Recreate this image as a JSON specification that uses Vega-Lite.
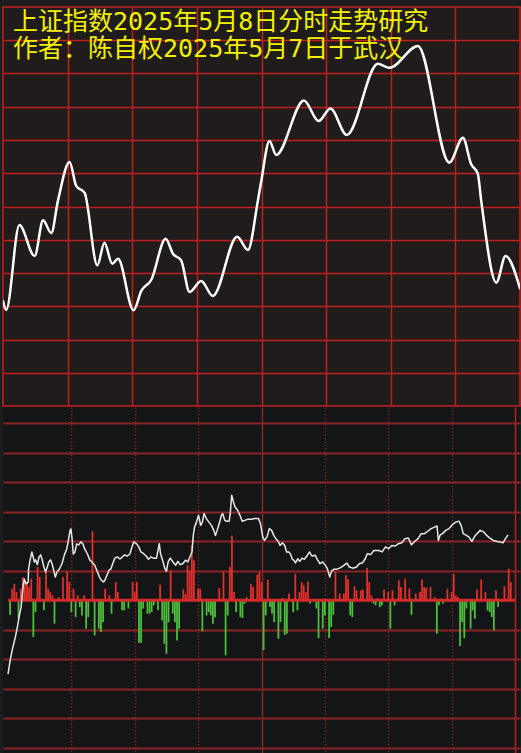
{
  "$schema": "https://vega.github.io/schema/vega-lite/v6.json",
  "background": "#1c1c1f",
  "padding": {"left": 2, "top": 6, "right": 2, "bottom": 0},
  "spacing": 0,
  "title": {
    "text": "上证指数2025年5月8日分时走势研究",
    "subtitle": "作者：陈自权2025年5月7日于武汉",
    "anchor": "start",
    "frame": "group",
    "offset": -56,
    "dx": 10,
    "color": "#f2f200",
    "subtitleColor": "#f2f200",
    "font": "DejaVu Sans Mono, Noto Sans CJK SC",
    "subtitleFont": "DejaVu Sans Mono, Noto Sans CJK SC",
    "fontSize": 25,
    "subtitleFontSize": 25,
    "fontWeight": "normal",
    "subtitleFontWeight": "normal",
    "subtitlePadding": 2
  },
  "config": {
    "axis": {"labels": false, "ticks": false, "domain": false, "grid": true, "titlePadding": 0, "labelPadding": 0, "tickSize": 0}
  },
  "datasets": {
    "top": [
      {"m": 0, "v": 3.16}, {"m": 1.5, "v": 2.89}, {"m": 7.6, "v": 5.44}, {"m": 14.7, "v": 4.51},
      {"m": 18.6, "v": 5.59}, {"m": 22.4, "v": 5.2}, {"m": 25.5, "v": 6.17}, {"m": 30.9, "v": 7.34},
      {"m": 34.0, "v": 6.62}, {"m": 37.9, "v": 6.41}, {"m": 43.8, "v": 4.23}, {"m": 47.1, "v": 4.91},
      {"m": 50.7, "v": 4.28}, {"m": 53.4, "v": 4.43}, {"m": 60.6, "v": 2.88}, {"m": 64.2, "v": 3.46},
      {"m": 68.8, "v": 3.79}, {"m": 75.5, "v": 5.03}, {"m": 78.9, "v": 4.58}, {"m": 82.7, "v": 4.38},
      {"m": 86.6, "v": 3.43}, {"m": 92.0, "v": 3.76}, {"m": 97.4, "v": 3.31}, {"m": 108.7, "v": 5.09},
      {"m": 113.7, "v": 4.69}, {"m": 118.3, "v": 6.17}, {"m": 119.9, "v": 6.77}, {"m": 123.7, "v": 7.97},
      {"m": 126.8, "v": 7.55}, {"m": 139.7, "v": 9.19}, {"m": 146.5, "v": 8.57}, {"m": 152.0, "v": 8.95},
      {"m": 159.6, "v": 8.15}, {"m": 174.0, "v": 10.29}, {"m": 179.4, "v": 10.17}, {"m": 192.6, "v": 10.83},
      {"m": 207.2, "v": 7.32}, {"m": 213.5, "v": 8.07}, {"m": 217.3, "v": 7.28}, {"m": 220.4, "v": 6.99},
      {"m": 222.0, "v": 6.17}, {"m": 229.0, "v": 3.71}, {"m": 233.3, "v": 4.51}, {"m": 240, "v": 3.54}
    ],
    "vol": [
      {"m": 1, "v": -0.49}, {"m": 2, "v": 0.39}, {"m": 3, "v": 0.56}, {"m": 4, "v": 0.28}, {"m": 5, "v": -0.62},
      {"m": 6, "v": 0.39}, {"m": 7, "v": 0.79}, {"m": 8, "v": 0.62}, {"m": 9, "v": 0.62}, {"m": 10, "v": 0.45},
      {"m": 11, "v": 0.73}, {"m": 12, "v": -1.24}, {"m": 13, "v": -0.4}, {"m": 14, "v": 1.13}, {"m": 15, "v": 0.79},
      {"m": 17, "v": -0.34}, {"m": 18, "v": 0.96}, {"m": 19, "v": 0.39}, {"m": 20, "v": 0.28}, {"m": 21, "v": 0.17},
      {"m": 22, "v": -0.79}, {"m": 24, "v": 0.11}, {"m": 26, "v": 0.79}, {"m": 28, "v": 0.96}, {"m": 29, "v": 0.62},
      {"m": 30, "v": -0.4}, {"m": 31, "v": 0.39}, {"m": 32, "v": -0.57}, {"m": 33, "v": 0.17}, {"m": 34, "v": -0.23},
      {"m": 35, "v": -0.51}, {"m": 36, "v": 0.17}, {"m": 37, "v": -0.96}, {"m": 38, "v": -0.57}, {"m": 40, "v": 2.34},
      {"m": 41, "v": -1.19}, {"m": 43, "v": -0.96}, {"m": 44, "v": -1.07}, {"m": 45, "v": -0.74}, {"m": 46, "v": 0.39},
      {"m": 48, "v": 0.17}, {"m": 49, "v": -0.45}, {"m": 51, "v": 0.62}, {"m": 52, "v": 0.28}, {"m": 54, "v": -0.34},
      {"m": 55, "v": -0.34}, {"m": 57, "v": -0.28}, {"m": 59, "v": 0.62}, {"m": 60, "v": 0.28}, {"m": 61, "v": 0.62},
      {"m": 62, "v": -1.44}, {"m": 63, "v": -1.44}, {"m": 64, "v": -0.28}, {"m": 66, "v": -0.45}, {"m": 67, "v": -0.45},
      {"m": 68, "v": -0.4}, {"m": 69, "v": -0.17}, {"m": 71, "v": -0.34}, {"m": 72, "v": 0.53}, {"m": 73, "v": -0.68},
      {"m": 74, "v": -1.47}, {"m": 75, "v": -1.81}, {"m": 76, "v": -0.74}, {"m": 77, "v": 1.02}, {"m": 78, "v": -0.45},
      {"m": 79, "v": -0.74}, {"m": 80, "v": -1.36}, {"m": 81, "v": -0.96}, {"m": 83, "v": 0.37}, {"m": 84, "v": 0.22},
      {"m": 85, "v": 1.19}, {"m": 86, "v": 1.02}, {"m": 87, "v": 1.86}, {"m": 88, "v": 1.36}, {"m": 90, "v": 0.39},
      {"m": 91, "v": 0.39}, {"m": 92, "v": -1.05}, {"m": 94, "v": -0.51}, {"m": 95, "v": -0.4}, {"m": 96, "v": -0.51},
      {"m": 97, "v": -0.79}, {"m": 98, "v": -0.57}, {"m": 100, "v": 0.42}, {"m": 102, "v": 0.98}, {"m": 103, "v": -1.86},
      {"m": 104, "v": -0.51}, {"m": 105, "v": 1.13}, {"m": 106, "v": 2.2}, {"m": 107, "v": 0.28}, {"m": 108, "v": -0.4},
      {"m": 110, "v": -0.57}, {"m": 111, "v": -0.6}, {"m": 112, "v": -0.11}, {"m": 113, "v": 0.11}, {"m": 115, "v": 0.56},
      {"m": 116, "v": 0.45}, {"m": 118, "v": 0.87}, {"m": 119, "v": 0.96}, {"m": 120, "v": 0.62}, {"m": 121, "v": -1.69},
      {"m": 122, "v": -0.51}, {"m": 123, "v": 0.7}, {"m": 124, "v": -0.23}, {"m": 125, "v": -0.45}, {"m": 126, "v": -0.74},
      {"m": 128, "v": -1.3}, {"m": 129, "v": -0.74}, {"m": 130, "v": 0.08}, {"m": 131, "v": -1.17}, {"m": 132, "v": -1.13},
      {"m": 133, "v": 0.23}, {"m": 135, "v": -0.4}, {"m": 136, "v": 0.9}, {"m": 137, "v": -0.34}, {"m": 138, "v": 0.28},
      {"m": 139, "v": 0.62}, {"m": 140, "v": 0.51}, {"m": 141, "v": 0.28}, {"m": 142, "v": 0.64}, {"m": 143, "v": -0.11},
      {"m": 144, "v": 0.05}, {"m": 146, "v": -0.28}, {"m": 147, "v": -1.28}, {"m": 149, "v": -0.96}, {"m": 150, "v": -0.51},
      {"m": 152, "v": -1.28}, {"m": 153, "v": -0.9}, {"m": 154, "v": -0.49}, {"m": 155, "v": 0.98}, {"m": 157, "v": 0.23},
      {"m": 159, "v": 0.23}, {"m": 160, "v": 0.85}, {"m": 161, "v": 0.72}, {"m": 162, "v": -0.51}, {"m": 163, "v": -0.57},
      {"m": 164, "v": 0.48}, {"m": 165, "v": 0.34}, {"m": 167, "v": 0.34}, {"m": 168, "v": 0.37}, {"m": 170, "v": 1.1},
      {"m": 171, "v": 0.62}, {"m": 172, "v": 0.17}, {"m": 173, "v": -0.11}, {"m": 174, "v": -0.17}, {"m": 175, "v": 0.08},
      {"m": 176, "v": -0.23}, {"m": 177, "v": -0.17}, {"m": 178, "v": 0.37}, {"m": 180, "v": 0.28}, {"m": 181, "v": -0.96},
      {"m": 182, "v": 0.34}, {"m": 183, "v": -0.17}, {"m": 185, "v": 0.68}, {"m": 186, "v": 0.45}, {"m": 188, "v": 0.73},
      {"m": 190, "v": 0.39}, {"m": 191, "v": -0.49}, {"m": 193, "v": 0.23}, {"m": 195, "v": 0.28}, {"m": 196, "v": 0.71},
      {"m": 197, "v": 0.45}, {"m": 198, "v": 0.42}, {"m": 200, "v": 0.45}, {"m": 202, "v": 0.11}, {"m": 203, "v": -1.13},
      {"m": 204, "v": -0.17}, {"m": 205, "v": 0.05}, {"m": 206, "v": -0.11}, {"m": 208, "v": 0.39}, {"m": 210, "v": 0.28},
      {"m": 211, "v": 0.9}, {"m": 212, "v": 0.17}, {"m": 213, "v": 0.11}, {"m": 214, "v": -1.55}, {"m": 215, "v": -0.74},
      {"m": 216, "v": -1.28}, {"m": 217, "v": -0.28}, {"m": 219, "v": -0.96}, {"m": 220, "v": -0.34}, {"m": 221, "v": -0.62},
      {"m": 222, "v": 0.37}, {"m": 224, "v": 0.71}, {"m": 226, "v": 0.28}, {"m": 227, "v": -0.34}, {"m": 228, "v": -0.4},
      {"m": 229, "v": -0.57}, {"m": 230, "v": -1.02}, {"m": 231, "v": 0.34}, {"m": 232, "v": -0.23}, {"m": 234, "v": -0.06},
      {"m": 235, "v": 0.48}, {"m": 237, "v": 1.07}, {"m": 238, "v": 0.62}
    ],
    "wl": [
      {"m": 0, "v": -2.5}, {"m": 1.07, "v": -2.02}, {"m": 2.0, "v": -1.68}, {"m": 3.5, "v": -1.24}, {"m": 4.6, "v": -0.84},
      {"m": 5.4, "v": -0.5}, {"m": 6.2, "v": -0.23}, {"m": 6.6, "v": 0.11}, {"m": 7.2, "v": 0.52}, {"m": 7.7, "v": 0.72},
      {"m": 8.5, "v": 0.56}, {"m": 9.6, "v": 0.62}, {"m": 9.7, "v": 1.03}, {"m": 10.3, "v": 1.3}, {"m": 11.3, "v": 1.64},
      {"m": 11.9, "v": 1.47}, {"m": 12.5, "v": 1.3}, {"m": 13.1, "v": 1.37}, {"m": 13.9, "v": 1.21}, {"m": 14.7, "v": 1.47},
      {"m": 15.5, "v": 1.54}, {"m": 16.2, "v": 1.37}, {"m": 17.0, "v": 1.13}, {"m": 17.8, "v": 0.96}, {"m": 18.6, "v": 1.13},
      {"m": 19.3, "v": 1.3}, {"m": 20.1, "v": 1.37}, {"m": 20.9, "v": 1.23}, {"m": 21.6, "v": 1.03}, {"m": 22.4, "v": 0.79},
      {"m": 23.2, "v": 0.96}, {"m": 24.3, "v": 1.06}, {"m": 25.5, "v": 1.23}, {"m": 26.7, "v": 1.54}, {"m": 27.8, "v": 1.74},
      {"m": 28.6, "v": 2.04}, {"m": 29.4, "v": 2.38}, {"m": 29.8, "v": 2.42}, {"m": 30.4, "v": 2.04}, {"m": 30.9, "v": 1.57},
      {"m": 31.7, "v": 1.64}, {"m": 32.5, "v": 1.91}, {"m": 33.5, "v": 1.88}, {"m": 34.5, "v": 1.98}, {"m": 35.5, "v": 1.91},
      {"m": 36.3, "v": 1.74}, {"m": 37.6, "v": 1.57}, {"m": 38.7, "v": 1.37}, {"m": 39.7, "v": 1.3}, {"m": 41.0, "v": 1.2},
      {"m": 42.2, "v": 0.99}, {"m": 43.3, "v": 0.79}, {"m": 44.1, "v": 0.69}, {"m": 45.2, "v": 0.62}, {"m": 45.9, "v": 0.69},
      {"m": 46.9, "v": 0.86}, {"m": 47.9, "v": 1.03}, {"m": 48.7, "v": 1.06}, {"m": 49.5, "v": 1.23}, {"m": 50.6, "v": 1.43},
      {"m": 51.8, "v": 1.47}, {"m": 53.0, "v": 1.4}, {"m": 54.1, "v": 1.47}, {"m": 55.2, "v": 1.54}, {"m": 56.4, "v": 1.5},
      {"m": 57.7, "v": 1.57}, {"m": 58.7, "v": 1.81}, {"m": 59.5, "v": 1.98}, {"m": 60.8, "v": 1.92}, {"m": 61.9, "v": 1.81},
      {"m": 62.9, "v": 1.64}, {"m": 64.2, "v": 1.58}, {"m": 65.4, "v": 1.5}, {"m": 66.5, "v": 1.39}, {"m": 67.6, "v": 1.47},
      {"m": 68.8, "v": 1.43}, {"m": 70.3, "v": 1.43}, {"m": 71.6, "v": 1.92}, {"m": 72.2, "v": 1.58}, {"m": 73.1, "v": 1.37},
      {"m": 74.2, "v": 1.09}, {"m": 75.0, "v": 0.98}, {"m": 75.8, "v": 1.3}, {"m": 76.8, "v": 1.43}, {"m": 78.1, "v": 1.3},
      {"m": 79.4, "v": 1.19}, {"m": 80.4, "v": 1.32}, {"m": 81.5, "v": 1.21}, {"m": 82.7, "v": 1.24}, {"m": 84.0, "v": 1.36},
      {"m": 85.1, "v": 1.3}, {"m": 86.1, "v": 1.47}, {"m": 87.1, "v": 1.64}, {"m": 87.7, "v": 2.2}, {"m": 88.3, "v": 2.48},
      {"m": 89.2, "v": 2.65}, {"m": 90.2, "v": 2.88}, {"m": 91.2, "v": 2.54}, {"m": 92.0, "v": 2.65}, {"m": 92.8, "v": 2.94},
      {"m": 93.9, "v": 2.77}, {"m": 95.1, "v": 2.65}, {"m": 96.3, "v": 2.54}, {"m": 97.4, "v": 2.37}, {"m": 98.2, "v": 2.2},
      {"m": 99.0, "v": 2.37}, {"m": 100.0, "v": 2.6}, {"m": 101.0, "v": 2.88}, {"m": 101.6, "v": 2.94}, {"m": 102.6, "v": 2.71},
      {"m": 103.6, "v": 2.68}, {"m": 104.7, "v": 2.68}, {"m": 105.2, "v": 2.94}, {"m": 105.9, "v": 3.56}, {"m": 106.7, "v": 3.33},
      {"m": 107.5, "v": 3.16}, {"m": 108.7, "v": 3.05}, {"m": 109.8, "v": 2.88}, {"m": 110.9, "v": 2.68}, {"m": 112.1, "v": 2.71},
      {"m": 113.7, "v": 2.75}, {"m": 115.2, "v": 2.75}, {"m": 116.8, "v": 2.77}, {"m": 118.6, "v": 2.77}, {"m": 119.5, "v": 2.6},
      {"m": 120.6, "v": 2.15}, {"m": 121.4, "v": 2.03}, {"m": 122.6, "v": 2.15}, {"m": 123.7, "v": 2.43}, {"m": 124.8, "v": 2.37},
      {"m": 125.8, "v": 2.2}, {"m": 126.8, "v": 2.09}, {"m": 127.9, "v": 2.0}, {"m": 128.8, "v": 1.86}, {"m": 129.9, "v": 1.95},
      {"m": 131.0, "v": 1.86}, {"m": 131.9, "v": 1.64}, {"m": 133.0, "v": 1.64}, {"m": 133.8, "v": 1.55}, {"m": 134.6, "v": 1.39},
      {"m": 135.3, "v": 1.36}, {"m": 136.1, "v": 1.27}, {"m": 137.2, "v": 1.41}, {"m": 138.1, "v": 1.32}, {"m": 139.2, "v": 1.43},
      {"m": 140.3, "v": 1.39}, {"m": 141.5, "v": 1.5}, {"m": 142.7, "v": 1.64}, {"m": 143.9, "v": 1.5}, {"m": 145.4, "v": 1.53},
      {"m": 146.4, "v": 1.39}, {"m": 147.7, "v": 1.24}, {"m": 149.0, "v": 1.3}, {"m": 150.0, "v": 1.21}, {"m": 151.1, "v": 1.09},
      {"m": 152.3, "v": 0.79}, {"m": 153.1, "v": 0.98}, {"m": 154.2, "v": 1.05}, {"m": 155.5, "v": 1.05}, {"m": 157.0, "v": 1.09},
      {"m": 158.5, "v": 1.16}, {"m": 160.4, "v": 1.26}, {"m": 161.6, "v": 1.13}, {"m": 163.2, "v": 1.09}, {"m": 165.0, "v": 1.13},
      {"m": 166.3, "v": 1.24}, {"m": 167.8, "v": 1.27}, {"m": 169.1, "v": 1.41}, {"m": 170.1, "v": 1.58}, {"m": 171.7, "v": 1.55},
      {"m": 173.2, "v": 1.69}, {"m": 175.5, "v": 1.69}, {"m": 177.1, "v": 1.64}, {"m": 178.7, "v": 1.81}, {"m": 180.2, "v": 1.75},
      {"m": 181.7, "v": 1.86}, {"m": 183.3, "v": 1.84}, {"m": 184.8, "v": 1.92}, {"m": 186.4, "v": 1.95}, {"m": 187.9, "v": 2.09},
      {"m": 189.5, "v": 2.11}, {"m": 191.0, "v": 1.88}, {"m": 192.6, "v": 2.0}, {"m": 194.1, "v": 2.09}, {"m": 195.6, "v": 2.26},
      {"m": 197.2, "v": 2.26}, {"m": 198.7, "v": 2.34}, {"m": 200.3, "v": 2.43}, {"m": 201.9, "v": 2.48}, {"m": 203.1, "v": 2.52},
      {"m": 203.7, "v": 2.03}, {"m": 204.6, "v": 2.22}, {"m": 205.7, "v": 2.26}, {"m": 207.2, "v": 2.37}, {"m": 208.8, "v": 2.43},
      {"m": 210.3, "v": 2.56}, {"m": 211.9, "v": 2.65}, {"m": 213.5, "v": 2.68}, {"m": 214.5, "v": 2.54}, {"m": 215.5, "v": 2.26},
      {"m": 217.0, "v": 2.2}, {"m": 218.1, "v": 2.15}, {"m": 219.6, "v": 2.0}, {"m": 221.2, "v": 2.2}, {"m": 223.5, "v": 2.37},
      {"m": 225.1, "v": 2.32}, {"m": 226.6, "v": 2.2}, {"m": 228.1, "v": 2.11}, {"m": 229.7, "v": 2.03}, {"m": 231.2, "v": 2.0},
      {"m": 232.7, "v": 1.98}, {"m": 234.3, "v": 1.95}, {"m": 235.5, "v": 2.09}, {"m": 236.7, "v": 2.22}
    ]
  },
  "vconcat": [
    {
      "width": 517,
      "height": 399,
      "view": {"fill": "#201c1b", "stroke": "#c21f1f", "strokeWidth": 1.5},
      "data": {"name": "top"},
      "mark": {"type": "line", "interpolate": "monotone", "color": "#ffffff", "strokeWidth": 2.5, "strokeJoin": "round", "strokeCap": "round", "clip": true},
      "encoding": {
        "x": {"field": "m", "type": "quantitative", "scale": {"domain": [0, 240], "nice": false},
              "axis": {"title": null, "values": [30, 60, 90, 120, 150, 180, 210], "gridColor": "#c21f1f", "gridWidth": 1.5, "gridOpacity": 1}},
        "y": {"field": "v", "type": "quantitative", "scale": {"domain": [0, 12], "nice": false, "zero": false},
              "axis": {"title": null, "values": [1, 2, 3, 4, 5, 6, 7, 8, 9, 10, 11], "gridColor": "#c21f1f", "gridWidth": 1.5, "gridOpacity": 1}}
      }
    },
    {
      "width": 517,
      "height": 348,
      "view": {"fill": "#141517", "stroke": null},
      "encoding": {
        "x": {"field": "m", "type": "quantitative", "scale": {"domain": [0, 240], "nice": false},
              "axis": {"title": null, "values": [30, 60, 90, 120, 150, 180, 210, 240],
                       "gridColor": {"condition": {"test": "datum.value === 240", "value": "#b82222"}, "value": "#8e2626"},
                       "gridDash": {"condition": {"test": "datum.value === 120 || datum.value === 240", "value": [1, 0]}, "value": [1.2, 2.2]},
                       "gridWidth": 1.5, "gridOpacity": 1}},
        "y": {"field": "v", "type": "quantitative", "scale": {"domain": [-5.24, 6.55], "nice": false, "zero": false},
              "axis": {"title": null, "values": [-5, -4, -3, -2, -1, 1, 2, 3, 4, 5, 6],
                       "gridColor": "#8c2424", "gridWidth": 2, "gridOpacity": 1}}
      },
      "layer": [
        {
          "data": {"name": "vol"},
          "mark": {"type": "bar", "width": 1.8, "clip": true},
          "encoding": {
            "color": {"condition": {"test": "datum.v > 0", "value": "#e2302c"}, "value": "#4cbf3c"}
          }
        },
        {
          "data": {"values": [{"m": 0, "m2": 240, "v": 0}]},
          "mark": {"type": "rule", "color": "#d42a2a", "strokeWidth": 3, "clip": true},
          "encoding": {"x2": {"field": "m2"}}
        },
        {
          "data": {"name": "wl"},
          "mark": {"type": "line", "color": "#e8e8e8", "strokeWidth": 1.5, "strokeJoin": "round", "clip": true},
          "encoding": {}
        }
      ]
    }
  ]
}
